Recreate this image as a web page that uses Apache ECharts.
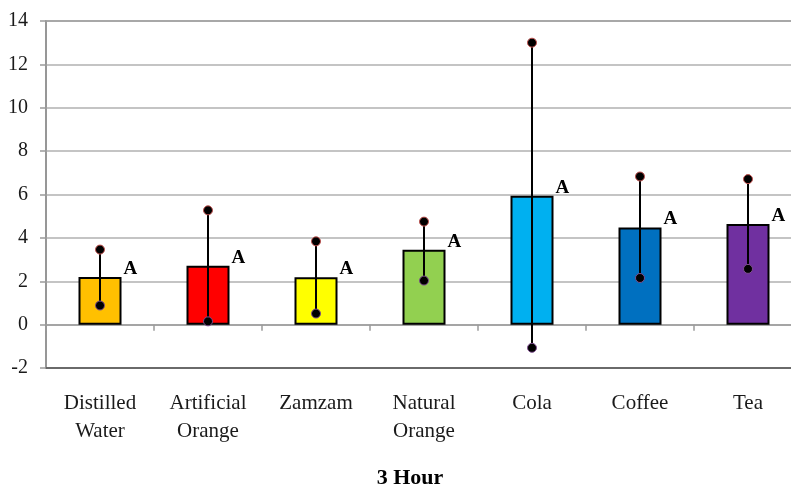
<!DOCTYPE html>
<html>
<head>
<meta charset="utf-8">
<script src="https://cdn.jsdelivr.net/npm/echarts@6/dist/echarts.min.js"></script>
<style>html,body{margin:0;padding:0;background:#fff;overflow:hidden;}#chart{width:791px;height:489px;}</style>
</head>
<body>
<div id="chart"></div>
<script>
const categories = ['Distilled\nWater', 'Artificial\nOrange', 'Zamzam', 'Natural\nOrange', 'Cola', 'Coffee', 'Tea'];
const means = [2.2, 2.72, 2.18, 3.45, 5.94, 4.48, 4.64];
const errLow = [0.88, 0.15, 0.51, 2.03, -1.07, 2.15, 2.57];
const errHigh = [3.46, 5.27, 3.84, 4.75, 13.0, 6.83, 6.71];
const letters = ['A', 'A', 'A', 'A', 'A', 'A', 'A'];
const barColors = ['#FFC000', '#FF0000', '#FFFF00', '#92D050', '#00B0F0', '#0070C0', '#7030A0'];
const yTicks = { min: -2, max: 14, interval: 2 };
const titleText = '3 Hour';

const serif = "'Liberation Serif', 'Times New Roman', serif";
const chart = echarts.init(document.getElementById('chart'));
chart.setOption({
  animation: false,
  title: {
    text: titleText, left: 405, top: 462, textAlign: 'center',
    textStyle: { fontFamily: serif, fontSize: 22, fontWeight: 'bold', color: '#000' }
  },
  grid: { left: 46, width: 756, top: 21, bottom: 121, outerBoundsMode: 'none', containLabel: false, show: true, borderColor: '#6e6e6e', borderWidth: 1.5 },
  xAxis: [{
    type: 'category', data: categories,
    axisLine: { onZero: true, lineStyle: { color: '#9a9a9a', width: 1.5 } },
    axisTick: { show: true, length: 6, lineStyle: { color: '#9a9a9a', width: 1.5 } },
    axisLabel: { show: false }
  }, {
    type: 'category', data: categories, position: 'bottom',
    axisLine: { onZero: false, show: true, lineStyle: { color: '#555', width: 1.5 } },
    axisTick: { show: false },
    axisLabel: { show: true, margin: 21, fontFamily: serif, fontSize: 21, lineHeight: 28, color: '#1a1a1a', interval: 0 }
  }],
  yAxis: {
    type: 'value', min: yTicks.min, max: yTicks.max, interval: yTicks.interval,
    axisLine: { show: true, lineStyle: { color: '#9a9a9a', width: 1.5 } },
    axisTick: { show: true, length: 6, lineStyle: { color: '#9a9a9a', width: 1.5 } },
    axisLabel: { margin: 18, fontFamily: serif, fontSize: 20, color: '#1a1a1a' },
    splitLine: { lineStyle: { color: '#b0b0b0', width: 1.5 } }
  },
  series: [{
    type: 'bar', xAxisIndex: 0, barWidth: 43,
    data: means.map((v, i) => ({ value: v, itemStyle: { color: barColors[i] } })),
    itemStyle: { borderColor: '#000', borderWidth: 2 },
    label: {
      show: true, position: [45, -8], align: 'left', verticalAlign: 'middle',
      formatter: p => letters[p.dataIndex],
      fontFamily: serif, fontSize: 19, fontWeight: 'bold', color: '#000'
    },
    z: 2
  }, {
    type: 'custom', xAxisIndex: 0, z: 5,
    data: categories.map((c, i) => [i, errLow[i], errHigh[i]]),
    renderItem: function (params, api) {
      const x = api.value(0);
      const lo = api.coord([x, api.value(1)]);
      const hi = api.coord([x, api.value(2)]);
      return {
        type: 'group',
        children: [
          { type: 'line', shape: { x1: lo[0], y1: lo[1], x2: hi[0], y2: hi[1] }, style: { stroke: '#000', lineWidth: 2 } },
          { type: 'circle', shape: { cx: hi[0], cy: hi[1], r: 4.5 }, style: { fill: '#000', stroke: '#c0504d', lineWidth: 1 } },
          { type: 'circle', shape: { cx: lo[0], cy: lo[1], r: 4.5 }, style: { fill: '#000', stroke: '#7f4f8f', lineWidth: 1 } }
        ]
      };
    }
  }]
});
</script>
</body>
</html>
